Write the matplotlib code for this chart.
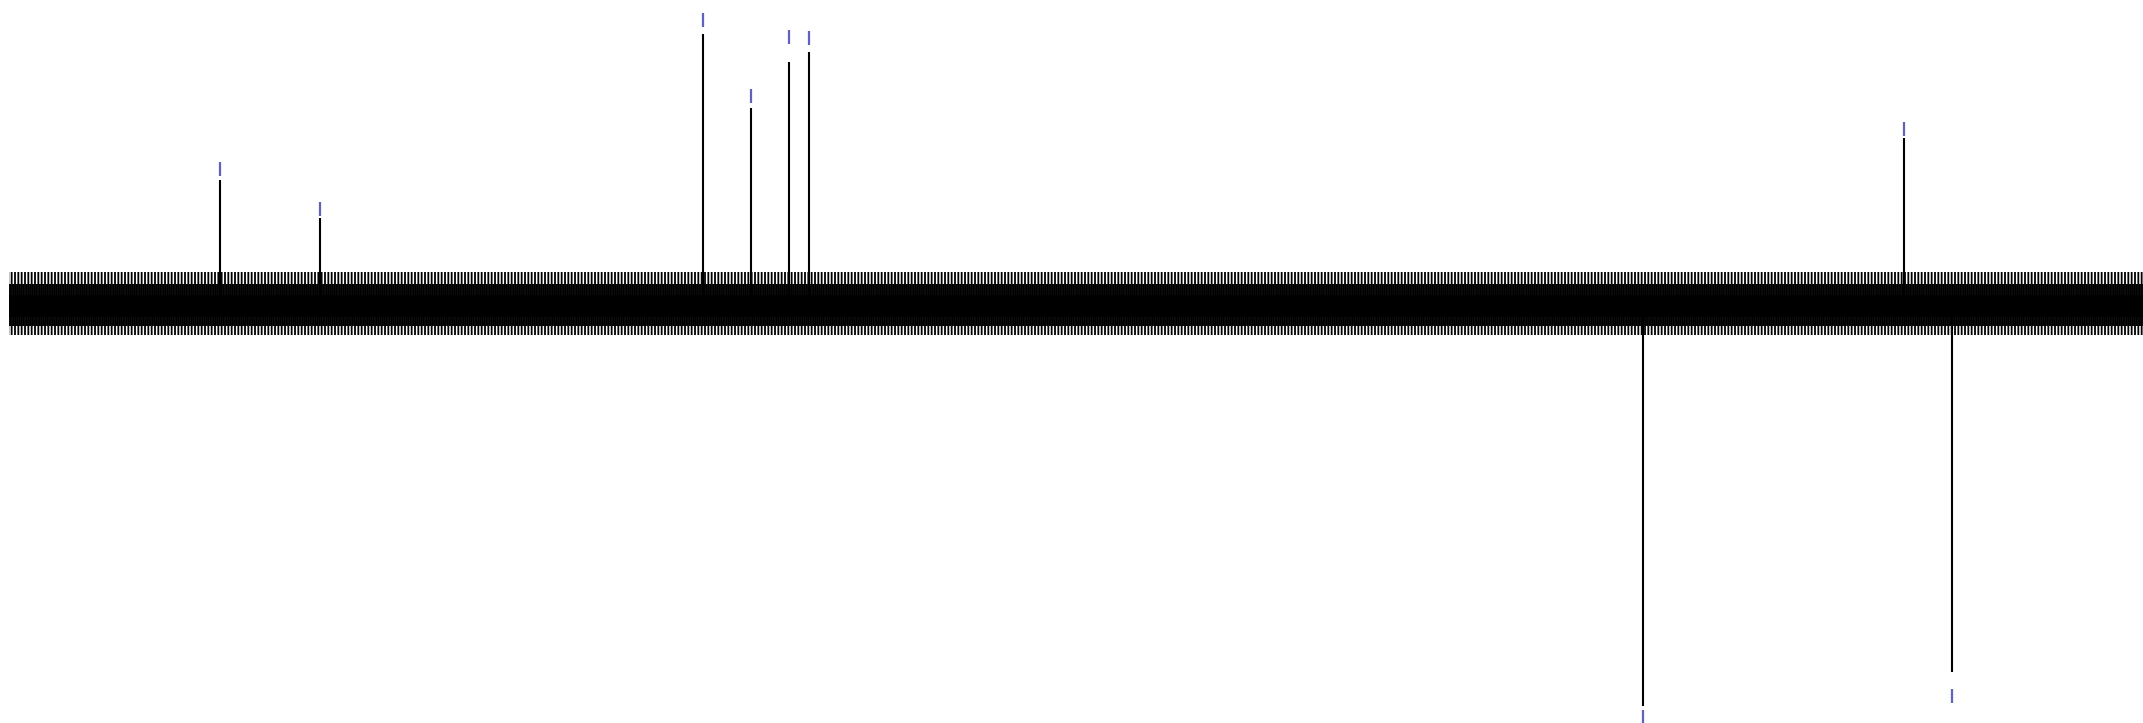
import matplotlib
matplotlib.use("Agg")
import matplotlib.pyplot as plt

# ---- data ----
# chemical shifts (ppm) of the picked peaks
peak_ppm = [135.17, 128.11, 101.19, 97.83, 95.20, 93.79, 16.77, 35.13, 13.40]
# intensities (tallest positive peak = 100); negative = inverted (CH2) peaks
peak_int = [46.0, 31.8, 100.0, 72.8, 89.6, 93.5, 61.4, -149.1, -136.5]
# baseline noise envelope (same units): outer, middle and dense core levels
noise_levels_top = [11.8, 7.5, 3.5]
noise_levels_bottom = [-11.5, -8.0, -5.0]
# spectrum range (ppm)
ppm_start = 150.0
ppm_end = 0.0

# ---- styling ----
W, H, DPI = 2143, 723, 100
px_per_unit = 2.697
label_gap_px = [4, 2, 7.6, 5, 18, 7, 2, 4, 17]
label_len_px = 14
label_color = "#5050b8"

plt.rcParams["hatch.linewidth"] = 1.3
fig = plt.figure(figsize=(W / DPI, H / DPI), dpi=DPI)
ax = fig.add_axes([0, 0, 1, 1])
ax.set_xlim(150.63, 0.0)
ax.set_ylim(-(H - 304) / px_per_unit, 304 / px_per_unit)
ax.axis("off")

xs = [ppm_start, ppm_end]
# noise band: dense core + comb-like fringes
t_out, t_mid, t_core = noise_levels_top
b_out, b_mid, b_core = noise_levels_bottom
ax.fill_between(xs, b_core, t_core, color="black", lw=0)
ax.fill_between(xs, t_core, t_mid, facecolor="none", edgecolor="black",
                hatch="|" * 9, lw=0)
ax.fill_between(xs, b_mid, b_core, facecolor="none", edgecolor="black",
                hatch="|" * 9, lw=0)
ax.fill_between(xs, t_mid, t_out, facecolor="none", edgecolor="black",
                hatch="|" * 5, lw=0)
ax.fill_between(xs, b_out, b_mid, facecolor="none", edgecolor="black",
                hatch="|" * 5, lw=0)

# peaks
ax.vlines(peak_ppm, 0, peak_int, color="black", lw=1.5)

# peak-pick markers
for p, h, g in zip(peak_ppm, peak_int, label_gap_px):
    s = 1 if h > 0 else -1
    y0 = h + s * g / px_per_unit
    y1 = y0 + s * label_len_px / px_per_unit
    ax.vlines(p, y0, y1, color=label_color, lw=1.6, alpha=0.9)

fig.savefig("out.png", dpi=DPI)
